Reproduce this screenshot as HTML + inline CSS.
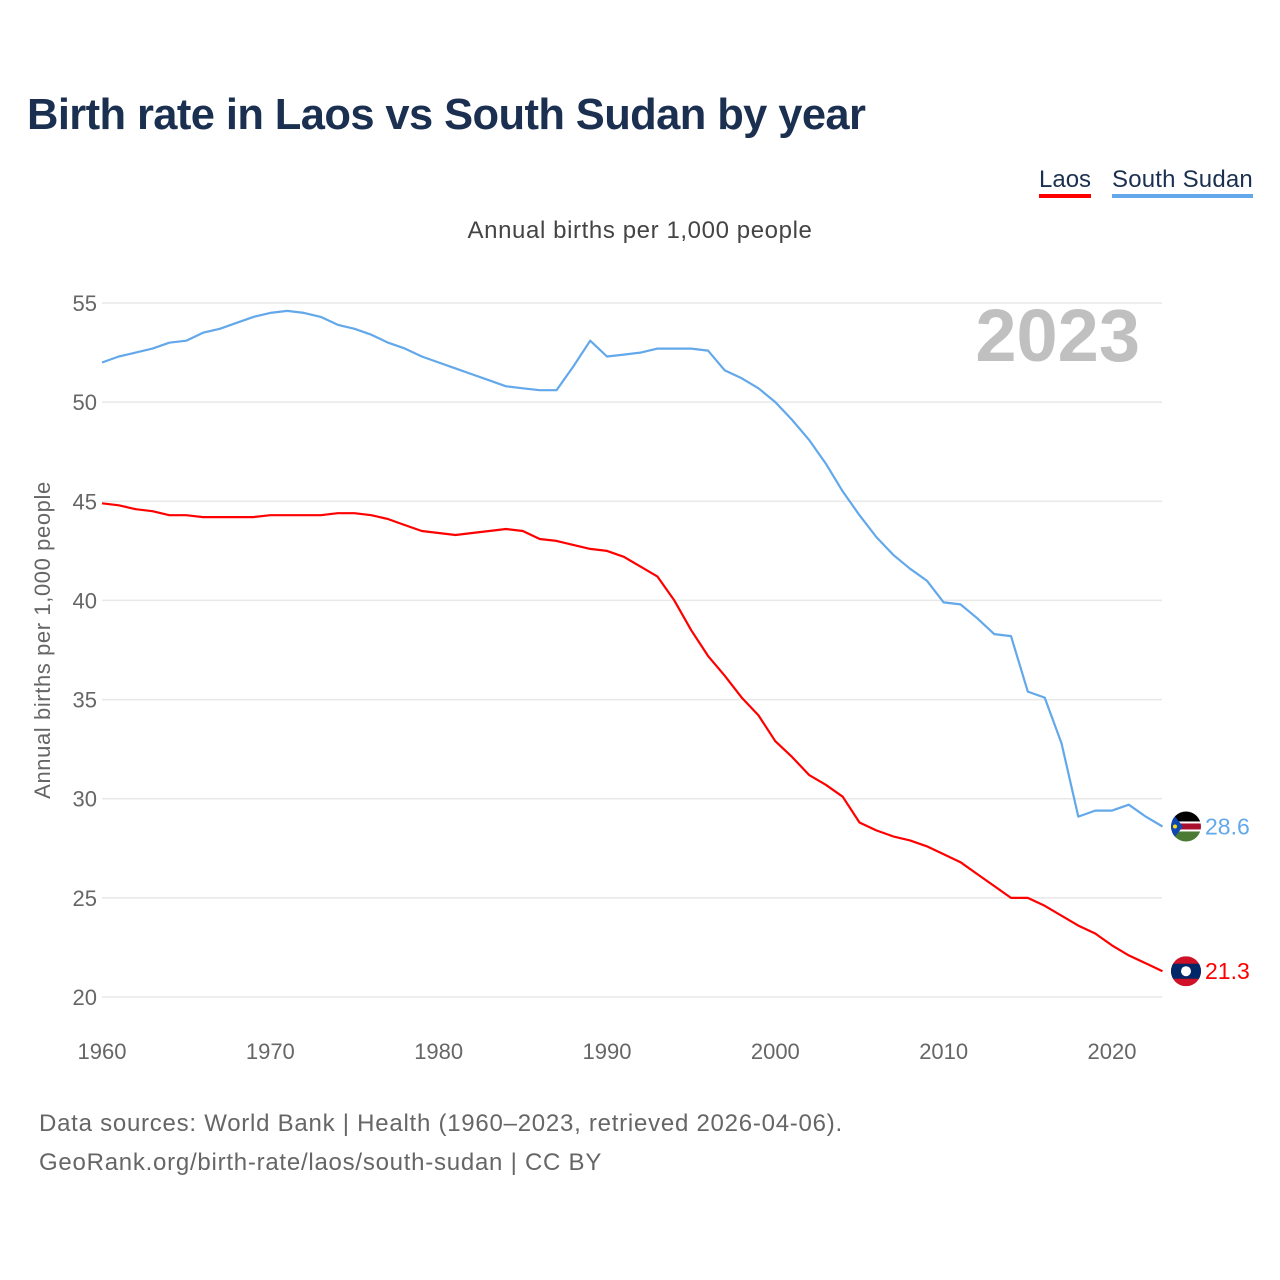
<!DOCTYPE html>
<html><head><meta charset="utf-8"><style>
body{margin:0;background:#fff;font-family:"Liberation Sans",sans-serif}
#wrap{position:relative;width:1280px;height:1280px;overflow:hidden}
.t{position:absolute;white-space:nowrap}
</style></head><body>
<div id="wrap">
<div class="t" style="left:27px;top:91px;font-size:43.5px;font-weight:bold;color:#1b3050;letter-spacing:-0.6px">Birth rate in Laos vs South Sudan by year</div>
<div class="t" style="left:1039px;top:166px;font-size:24px;color:#1b3050;border-bottom:4px solid #ff0000;line-height:28px">Laos</div>
<div class="t" style="left:1112px;top:166px;font-size:24px;color:#1b3050;border-bottom:4px solid #62a8ea;line-height:28px;letter-spacing:0.2px">South Sudan</div>
<div class="t" style="left:0;width:1280px;text-align:center;top:217px;font-size:24px;color:#444;letter-spacing:0.6px">Annual births per 1,000 people</div>
<div class="t" style="left:39px;top:1104px;font-size:24px;color:#666;line-height:39px;letter-spacing:0.75px">Data sources: World Bank | Health (1960–2023, retrieved 2026-04-06).<br>GeoRank.org/birth-rate/laos/south-sudan | CC BY</div>
<svg id="chart" width="1280" height="1280" style="position:absolute;left:0;top:0"></svg>
</div>
<script>
const years=[];for(let y=1960;y<=2023;y++)years.push(y);
const laos=[44.9,44.8,44.6,44.5,44.3,44.3,44.2,44.2,44.2,44.2,44.3,44.3,44.3,44.3,44.4,44.4,44.3,44.1,43.8,43.5,43.4,43.3,43.4,43.5,43.6,43.5,43.1,43.0,42.8,42.6,42.5,42.2,41.7,41.2,40.0,38.5,37.2,36.2,35.1,34.2,32.9,32.1,31.2,30.7,30.1,28.8,28.4,28.1,27.9,27.6,27.2,26.8,26.2,25.6,25.0,25.0,24.6,24.1,23.6,23.2,22.6,22.1,21.7,21.3];
const ssudan=[52.0,52.3,52.5,52.7,53.0,53.1,53.5,53.7,54.0,54.3,54.5,54.6,54.5,54.3,53.9,53.7,53.4,53.0,52.7,52.3,52.0,51.7,51.4,51.1,50.8,50.7,50.6,50.6,51.8,53.1,52.3,52.4,52.5,52.7,52.7,52.7,52.6,51.6,51.2,50.7,50.0,49.1,48.1,46.9,45.5,44.3,43.2,42.3,41.6,41.0,39.9,39.8,39.1,38.3,38.2,35.4,35.1,32.8,29.1,29.4,29.4,29.7,29.1,28.6];
const yTicks=[20,25,30,35,40,45,50,55];
const xTicks=[1960,1970,1980,1990,2000,2010,2020];
const NS="http://www.w3.org/2000/svg";
const svg=document.getElementById('chart');
const X=y=>102+(y-1960)*(1112-102)/60;
const Y=v=>997-(v-20)*(997-303)/35;
function mk(t,a,parent){const e=document.createElementNS(NS,t);for(const k in a)e.setAttribute(k,a[k]);(parent||svg).appendChild(e);return e;}
yTicks.forEach(v=>{
 const l=mk('line',{x1:102,x2:1162,y1:Y(v),y2:Y(v),stroke:'#e8e8e8','stroke-width':1.5});
 
 
 const t=mk('text',{x:97,y:Y(v)+8,'text-anchor':'end','font-size':22,fill:'#666','font-family':'Liberation Sans, sans-serif'});
 t.textContent=v;
 
 
});
xTicks.forEach(v=>{
 const t=mk('text',{x:X(v),y:1059,'text-anchor':'middle','font-size':22,fill:'#666','font-family':'Liberation Sans, sans-serif'});
 t.textContent=v;
 
 
});
const yt=mk('text',{transform:'translate(50,640) rotate(-90)','text-anchor':'middle','font-size':22,fill:'#666','font-family':'Liberation Sans, sans-serif','letter-spacing':'0.6'});
yt.textContent='Annual births per 1,000 people';


const yr=mk('text',{x:1140,y:361,'text-anchor':'end','font-size':74,'font-weight':'bold',fill:'#c0c0c0','font-family':'Liberation Sans, sans-serif'});
yr.textContent='2023';


const defs=mk('defs',{});
function flag(name,cy){
 const cp=mk('clipPath',{id:'cp-'+name},defs);
 mk('circle',{cx:1186,cy:cy,r:15},cp);
 const g=mk('g',{'clip-path':'url(#cp-'+name+')'});
 
 
 const x0=1171,w=30,top=cy-15;
 if(name==='laos'){
  mk('rect',{x:x0,y:top,width:w,height:30,fill:'#ce1126'},g);
  mk('rect',{x:x0,y:top+7.5,width:w,height:15,fill:'#002868'},g);
  mk('circle',{cx:1186,cy:cy,r:5,fill:'#fff'},g);
 }else{
  mk('rect',{x:x0,y:top,width:w,height:10,fill:'#000'},g);
  mk('rect',{x:x0,y:top+10,width:w,height:10,fill:'#fff'},g);
  mk('rect',{x:x0,y:top+12,width:w,height:6,fill:'#a8102e'},g);
  mk('rect',{x:x0,y:top+20,width:w,height:10,fill:'#4a7a34'},g);
  mk('polygon',{points:`${x0},${top} ${x0+12},${cy} ${x0},${top+30}`,fill:'#0f47af'},g);
  mk('circle',{cx:x0+4,cy:cy,r:2,fill:'#fcdd09'},g);
 }
}
function series(data,color,name){
 const d=data.map((v,i)=>(i?'L':'M')+X(years[i]).toFixed(1)+','+Y(v).toFixed(1)).join('');
 const p=mk('path',{d:d,fill:'none',stroke:color,'stroke-width':2.2,'stroke-linejoin':'round'});
 
 
 const lv=data[data.length-1], ly=Y(lv);
 flag(name,ly);
 const t=mk('text',{x:1205,y:ly+8,'font-size':23,fill:color,'font-family':'Liberation Sans, sans-serif'});
 t.textContent=lv.toFixed(1);
 
 
}
series(ssudan,'#62a8ea','south-sudan');
series(laos,'#ff0000','laos');
</script>
</body></html>
